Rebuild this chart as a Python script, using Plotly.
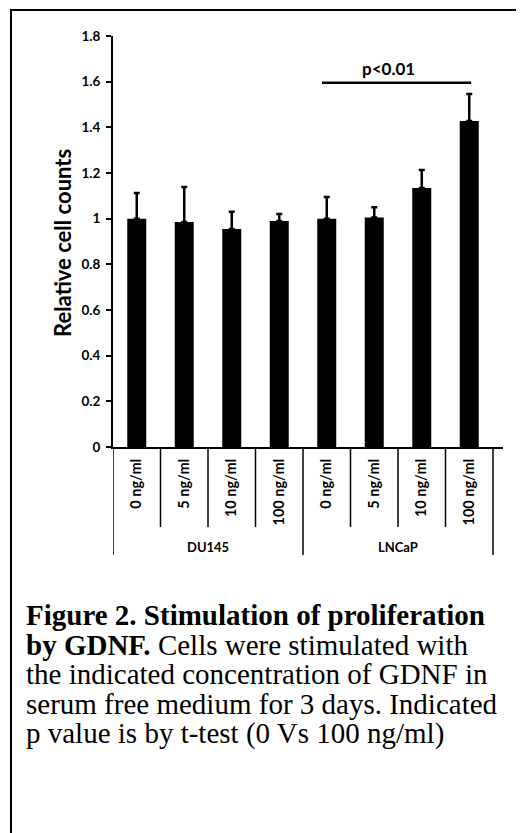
import plotly.graph_objects as go

# ---- data ----
conc_labels = ["0 ng/ml", "5 ng/ml", "10 ng/ml", "100 ng/ml",
               "0 ng/ml", "5 ng/ml", "10 ng/ml", "100 ng/ml"]
groups = ["DU145", "LNCaP"]
values = [1.00, 0.985, 0.955, 0.99, 1.00, 1.005, 1.134, 1.428]
errors = [0.112, 0.154, 0.075, 0.03, 0.095, 0.045, 0.079, 0.118]
y_ticks = [0, 0.2, 0.4, 0.6, 0.8, 1.0, 1.2, 1.4, 1.6, 1.8]
y_tick_text = ["0", "0.2", "0.4", "0.6", "0.8", "1", "1.2", "1.4", "1.6", "1.8"]
sig_text = "p<0.01"
sig_y = 1.595
caption_lines = [
    "<b>Figure 2. Stimulation of proliferation</b>",
    "<b>by GDNF.</b> Cells were stimulated with",
    "the indicated concentration of GDNF in",
    "serum free medium for 3 days. Indicated",
    "p value is by t-test (0 Vs 100 ng/ml)",
]

OFF = 8  # page body margin
W, H = 524, 833
L, R, T, B = 113, 503, 36, 447
PW, PH = R - L, B - T

def xp(px):
    return (px - L) / PW

def yp(py):
    return (B - py) / PH

SANS = "Lato"
x = list(range(len(values)))

fig = go.Figure()
fig.add_trace(go.Bar(
    x=x, y=values, width=0.4,
    marker=dict(color="black", line=dict(width=0)),
    error_y=dict(type="data", array=errors, arrayminus=[0] * len(errors),
                 symmetric=False, color="black", thickness=2.5, width=3),
    showlegend=False,
))

shapes = []
# frame
shapes.append(dict(type="line", xref="paper", yref="paper", x0=xp(11), x1=xp(11), y0=yp(10), y1=yp(840),
                   line=dict(color="black", width=2)))
shapes.append(dict(type="line", xref="paper", yref="paper", x0=xp(10), x1=xp(530), y0=yp(10), y1=yp(10),
                   line=dict(color="black", width=2)))
# category separators
for i in range(len(values) + 1):
    b = i - 0.5
    long = (i % 4 == 0)
    shapes.append(dict(type="line", xref="x", yref="paper", x0=b, x1=b,
                       y0=yp(447), y1=yp(555 if long else 527),
                       line=dict(color="black", width=1.5)))
# significance line
shapes.append(dict(type="line", xref="x", yref="y", x0=3.9, x1=7.04, y0=sig_y, y1=sig_y,
                   line=dict(color="black", width=2.5)))

annotations = []
annotations.append(dict(x=xp(388), y=yp(68), xref="paper", yref="paper", text="<b>" + sig_text + "</b>",
                        xanchor="center", yanchor="middle",
                        showarrow=False, font=dict(family=SANS, size=17, color="black")))
annotations.append(dict(x=xp(63), y=yp(243), xref="paper", yref="paper", text="<b>Relative cell counts</b>",
                        xanchor="center", yanchor="middle",
                        textangle=-90, showarrow=False, font=dict(family=SANS, size=22, color="black")))
for gi, g in enumerate(groups):
    annotations.append(dict(x=1.5 + 4 * gi, y=yp(547), xref="x", yref="paper", text="<b>" + g + "</b>",
                            xanchor="center", yanchor="middle",
                            showarrow=False, font=dict(family=SANS, size=13, color="black")))
for li, line in enumerate(caption_lines):
    baseline = 623 + 29.7 * li
    annotations.append(dict(x=xp(24), y=yp(baseline - 8), xref="paper", yref="paper", text=line,
                            xanchor="left", yanchor="middle", align="left", showarrow=False,
                            font=dict(family="Liberation Serif", size=29, color="black")))

fig.update_layout(
    width=W - OFF, height=H - OFF,
    margin=dict(l=L - OFF, r=W - R, t=T - OFF, b=H - B, pad=0),
    plot_bgcolor="white", paper_bgcolor="white",
    shapes=shapes, annotations=annotations,
    xaxis=dict(range=[-0.5, (R - L) / 47.5 - 0.5], tickvals=x, ticktext=conc_labels,
               tickangle=-90, showline=True, linecolor="black", linewidth=2,
               ticks="", showgrid=False, zeroline=False, ticklabelstandoff=4,
               tickfont=dict(family=SANS, size=14.5, color="black", weight="bold")),
    yaxis=dict(range=[0, 1.8], tickvals=y_ticks, ticktext=y_tick_text,
               showline=True, linecolor="black", linewidth=2, ticks="outside", ticklen=5,
               tickwidth=1.5, tickcolor="black", showgrid=False, zeroline=False,
               ticklabelstandoff=3,
               tickfont=dict(family=SANS, size=13.5, color="black", weight="bold")),
    bargap=0.6,
)

fig.write_html("out.html")
